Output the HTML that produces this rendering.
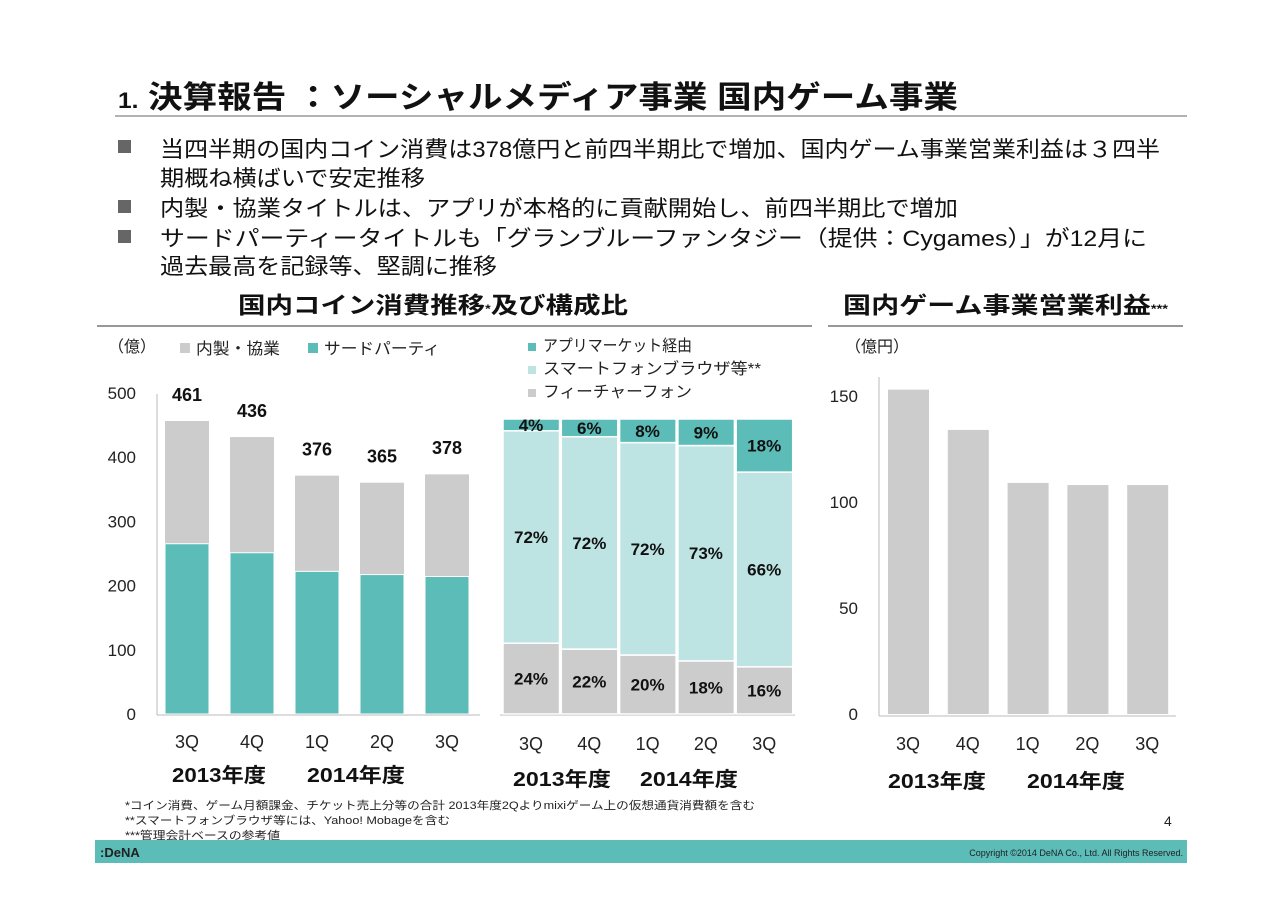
<!DOCTYPE html>
<html><head><meta charset="utf-8">
<style>
body{margin:0;background:#fff;width:1280px;height:905px;overflow:hidden;font-family:"Liberation Sans","Noto Sans CJK JP",sans-serif;}
svg text{font-family:"Liberation Sans","Noto Sans CJK JP",sans-serif;}
</style></head>
<body>
<svg id="s" width="1280" height="905" viewBox="0 0 1280 905" xmlns="http://www.w3.org/2000/svg">
<text x="118" y="108" font-size="31" font-weight="bold" fill="#111" textLength="840" lengthAdjust="spacingAndGlyphs"><tspan font-size="22">1.</tspan> 決算報告 ：ソーシャルメディア事業  国内ゲーム事業</text>
<line x1="115" y1="116" x2="1187" y2="116" stroke="#999" stroke-width="1.5"/>
<g font-size="22" fill="#111">
<rect x="118" y="140" width="13" height="13" fill="#666"/>
<text x="160" y="157" textLength="1000" lengthAdjust="spacingAndGlyphs">当四半期の国内コイン消費は378億円と前四半期比で増加、国内ゲーム事業営業利益は３四半</text>
<text x="160" y="186" textLength="265" lengthAdjust="spacingAndGlyphs">期概ね横ばいで安定推移</text>
<rect x="118" y="200" width="13" height="13" fill="#666"/>
<text x="160" y="216" textLength="798" lengthAdjust="spacingAndGlyphs">内製・協業タイトルは、アプリが本格的に貢献開始し、前四半期比で増加</text>
<rect x="118" y="230" width="13" height="13" fill="#666"/>
<text x="160" y="246" textLength="987" lengthAdjust="spacingAndGlyphs">サードパーティータイトルも「グランブルーファンタジー（提供：Cygames）」が12月に</text>
<text x="160" y="274" textLength="337" lengthAdjust="spacingAndGlyphs">過去最高を記録等、堅調に推移</text>
</g>
<text x="238" y="313" font-size="23" font-weight="bold" fill="#111" textLength="390" lengthAdjust="spacingAndGlyphs">国内コイン消費推移<tspan font-size="12">*</tspan>及び構成比</text>
<line x1="97" y1="326" x2="812" y2="326" stroke="#777" stroke-width="1.5"/>
<text x="843" y="313" font-size="23" font-weight="bold" fill="#111" textLength="325" lengthAdjust="spacingAndGlyphs">国内ゲーム事業営業利益<tspan font-size="12">***</tspan></text>
<line x1="828" y1="326" x2="1183" y2="326" stroke="#777" stroke-width="1.5"/>
<text x="108" y="352" font-size="16" fill="#222">（億）</text>
<rect x="180" y="343" width="10" height="10" fill="#ccc"/>
<text x="196" y="354" font-size="16" fill="#222" textLength="84" lengthAdjust="spacingAndGlyphs">内製・協業</text>
<rect x="308" y="343" width="10" height="10" fill="#5bbcb8"/>
<text x="324" y="354" font-size="16" fill="#222" textLength="116" lengthAdjust="spacingAndGlyphs">サードパーティ</text>
<g font-size="16" fill="#222">
<rect x="528" y="343" width="8" height="8" fill="#5bbcb8"/><text x="543" y="351" textLength="149" lengthAdjust="spacingAndGlyphs">アプリマーケット経由</text>
<rect x="528" y="366" width="8" height="8" fill="#bde4e3"/><text x="543" y="374" textLength="218" lengthAdjust="spacingAndGlyphs">スマートフォンブラウザ等**</text>
<rect x="528" y="389" width="8" height="8" fill="#ccc"/><text x="543" y="397" textLength="149" lengthAdjust="spacingAndGlyphs">フィーチャーフォン</text>
</g>
<text x="845" y="352" font-size="16" fill="#222">（億円）</text>
<g id="left"></g>
<g id="mid"></g>
<g id="right"></g>
<g font-size="20" font-weight="bold" fill="#111">
<text x="172" y="782" textLength="94" lengthAdjust="spacingAndGlyphs">2013年度</text><text x="307" y="782" textLength="98" lengthAdjust="spacingAndGlyphs">2014年度</text>
<text x="513" y="786" textLength="98" lengthAdjust="spacingAndGlyphs">2013年度</text><text x="640" y="786" textLength="98" lengthAdjust="spacingAndGlyphs">2014年度</text>
<text x="888" y="788" textLength="98" lengthAdjust="spacingAndGlyphs">2013年度</text><text x="1027" y="788" textLength="98" lengthAdjust="spacingAndGlyphs">2014年度</text>
</g>
<g font-size="11" fill="#222">
<text x="125" y="809" textLength="630" lengthAdjust="spacingAndGlyphs">*コイン消費、ゲーム月額課金、チケット売上分等の合計  2013年度2Qよりmixiゲーム上の仮想通貨消費額を含む</text>
<text x="125" y="824" textLength="325" lengthAdjust="spacingAndGlyphs">**スマートフォンブラウザ等には、Yahoo! Mobageを含む</text>
<text x="125" y="839" textLength="155" lengthAdjust="spacingAndGlyphs">***管理会計ベースの参考値</text>
</g>
<text x="1164" y="826" font-size="14" fill="#222">4</text>
<rect x="95" y="840" width="1092" height="23" fill="#5bbcb8"/>
<text x="100" y="857" font-size="13" font-weight="bold" fill="#222">:DeNA</text>
<text x="1183" y="856" font-size="9" fill="#222" text-anchor="end">Copyright ©2014 DeNA Co., Ltd. All Rights Reserved.</text>
</svg>
<script>
const NS="http://www.w3.org/2000/svg";
const quarters=["3Q","4Q","1Q","2Q","3Q"];
const coinTotals=[461,436,376,365,378];
const coinThirdParty=[265,251,222,217,214];
const coinTicks=[0,100,200,300,400,500];
const shareFeature=[24,22,20,18,16];
const shareBrowser=[72,72,72,73,66];
const shareApp=[4,6,8,9,18];
const profitValues=[153,134,109,108,108];
const profitTicks=[0,50,100,150];
function mk(tag,attrs,parent,txt){const e=document.createElementNS(NS,tag);for(const k in attrs)e.setAttribute(k,attrs[k]);if(txt!==undefined)e.textContent=txt;parent.appendChild(e);return e;}
// left
const L=document.getElementById('left');
const ly=v=>714-v*0.6425;
const lx=i=>165+i*65;
mk('line',{x1:157,y1:394,x2:157,y2:715,stroke:'#bbb'},L);
mk('line',{x1:157,y1:715,x2:480,y2:715,stroke:'#bbb'},L);
coinTicks.forEach(t=>{const e=mk('text',{x:136,y:ly(t)+6,'font-size':17,'text-anchor':'end',fill:'#222'},L,t);

});
coinTotals.forEach((v,i)=>{
 const top=ly(v-5);
 const g=mk('rect',{x:lx(i),y:top,width:44,height:714-top,fill:'#ccc'},L);
 
 
 const t=mk('rect',{x:lx(i),y:ly(coinThirdParty[i]),width:44,height:714-ly(coinThirdParty[i]),fill:'#5bbcb8',stroke:'#fff','stroke-width':1},L);
 
 
 const lb=mk('text',{x:lx(i)+22,y:ly(v)-17,'font-size':18,'font-weight':'bold','text-anchor':'middle',fill:'#111'},L,v);
 
 
 const q=mk('text',{x:lx(i)+22,y:748,'font-size':18,'text-anchor':'middle',fill:'#222'},L,quarters[i]);
 
 
});
// middle
const M=document.getElementById('mid');
const my=p=>714-p*2.95;
const mx=i=>503+i*58.3;
mk('line',{x1:500,y1:715,x2:795,y2:715,stroke:'#bbb'},M);
quarters.forEach((q,i)=>{
 const segs=[[shareFeature[i],'#ccc'],[shareBrowser[i],'#bde4e3'],[shareApp[i],'#5bbcb8']];
 let acc=0;
 segs.forEach(([v,c])=>{
  const r=mk('rect',{x:mx(i),y:my(acc+v),width:56.5,height:v*2.95,fill:c,stroke:'#fff','stroke-width':1.5},M);
  
  
  const lab=mk('text',{x:mx(i)+28,y:my(acc+v/2)+6,'font-size':17,'font-weight':'bold','text-anchor':'middle',fill:'#111'},M,v+'%');
  
  
  acc+=v;
 });
 const t=mk('text',{x:mx(i)+28,y:750,'font-size':18,'text-anchor':'middle',fill:'#222'},M,q);
 
 
});
// right
const R=document.getElementById('right');
const ry=v=>714-v*2.12;
const rx=i=>888+i*59.8;
mk('line',{x1:879,y1:377,x2:879,y2:716,stroke:'#bbb'},R);
mk('line',{x1:879,y1:716,x2:1176,y2:716,stroke:'#bbb'},R);
profitTicks.forEach(t=>{const e=mk('text',{x:858,y:ry(t)+6,'font-size':17,'text-anchor':'end',fill:'#222'},R,t);

});
profitValues.forEach((v,i)=>{
 const r=mk('rect',{x:rx(i),y:ry(v),width:41,height:714-ry(v),fill:'#ccc'},R);
 
 
 const q=mk('text',{x:rx(i)+20,y:750,'font-size':18,'text-anchor':'middle',fill:'#222'},R,quarters[i]);
 
 
});
</script>
</body></html>
